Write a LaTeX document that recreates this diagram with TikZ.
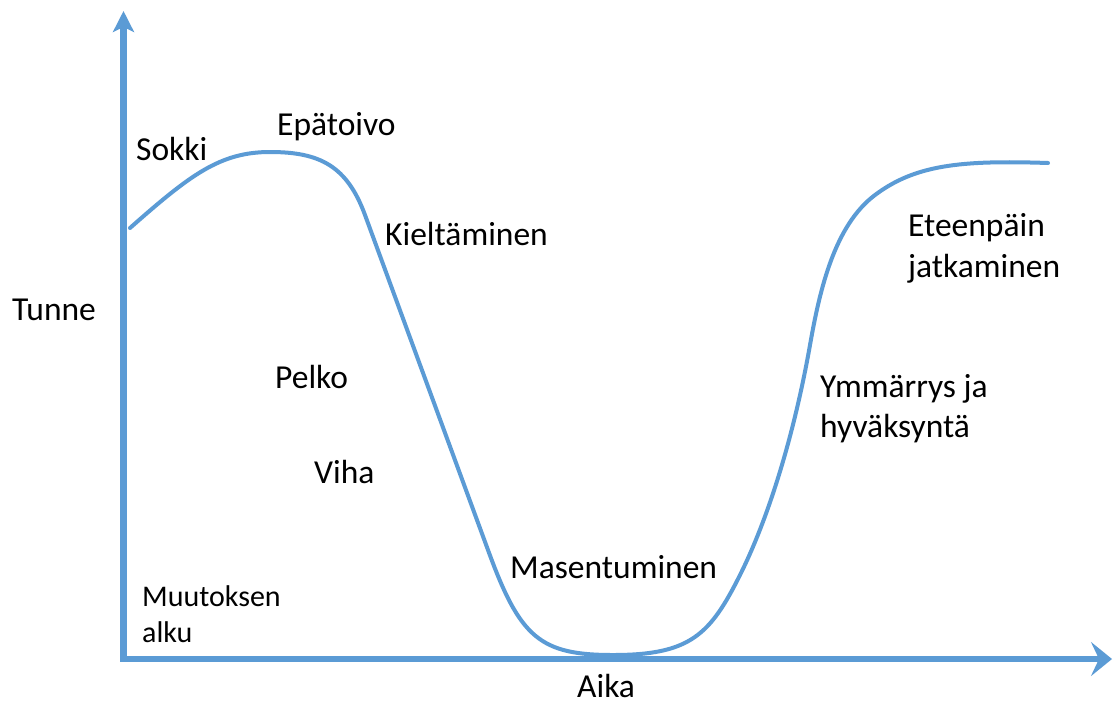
\documentclass[tikz,border=0pt]{standalone}
\usepackage{fontspec}
\setmainfont{Carlito}
\usetikzlibrary{arrows.meta}
\definecolor{axisblue}{RGB}{91,155,213}
\begin{document}
\begin{tikzpicture}[x=1pt,y=-1pt,
  lbl/.style={inner sep=0pt,anchor=base west,font=\fontsize{33.5}{40}\selectfont},
  smalllbl/.style={inner sep=0pt,anchor=base west,font=\fontsize{30}{36}\selectfont},
  axisline/.style={draw=axisblue,line width=6.5pt,line join=miter},
  curveline/.style={draw=axisblue,line width=4pt,line cap=round,line join=round}]
\fill[white] (0,0) rectangle (1116,702);
\useasboundingbox (0,0) rectangle (1116,702);
\coordinate (ytip) at (123.5,11);
\coordinate (origin) at (123.5,659);
\coordinate (xtip) at (1112,659);
\draw[axisline,{Stealth[length=21pt,width=21pt,inset=5pt]}-{Stealth[length=21pt,width=34pt,inset=8pt]}]
  (ytip) -- (origin) -- (xtip);
\draw[curveline] (130,228) .. controls (190,175) and (220,152) .. (270,152)
  .. controls (320,152) and (347,166) .. (365,215)
  -- (488,550)
  .. controls (520,638) and (540,655) .. (613,655)
  .. controls (690,655) and (710,635) .. (740,575)
  .. controls (770,515) and (795,430) .. (810,345)
  .. controls (820,288) and (835,225) .. (875,195)
  .. controls (915,165) and (960,160) .. (1048,163);
\node[lbl] (tunne) at (12,320) {Tunne};
\node[lbl] (sokki) at (136,160) {Sokki};
\node[lbl] (epatoivo) at (277,135) {Epätoivo};
\node[lbl] (kieltaminen) at (385,245) {Kieltäminen};
\node[lbl] (pelko) at (275,388) {Pelko};
\node[lbl] (viha) at (314,483) {Viha};
\node[lbl] (masentuminen) at (510,578) {Masentuminen};
\node[lbl] (aika) at (577,697) {Aika};
\node[lbl] (ymmarrys) at (820,397) {Ymmärrys ja};
\node[lbl] (hyvaksynta) at (820,437) {hyväksyntä};
\node[lbl] (eteenpain) at (908,236) {Eteenpäin};
\node[lbl] (jatkaminen) at (908,277) {jatkaminen};
\node[smalllbl] (muutoksen) at (142,606) {Muutoksen};
\node[smalllbl] (alku) at (142,642) {alku};
\end{tikzpicture}
\end{document}
